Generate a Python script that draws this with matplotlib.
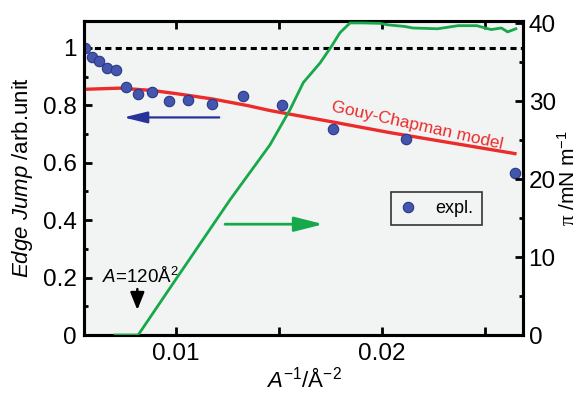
import matplotlib
matplotlib.use('Agg')
import matplotlib.pyplot as plt
from matplotlib.lines import Line2D

plt.rcParams['font.family'] = ['Liberation Sans', 'DejaVu Sans']
plt.rcParams['mathtext.fontset'] = 'custom'
plt.rcParams['mathtext.rm'] = 'Liberation Sans'
plt.rcParams['mathtext.it'] = 'Liberation Sans:italic'
plt.rcParams['mathtext.cal'] = 'Liberation Serif'

RED = '#ec2b2b'
GREEN = '#16a84a'
BLUE = '#4356ad'
BG = '#f2f4f3'

# experimental edge jump (left axis)
expl_x = [0.00558, 0.00591, 0.00625, 0.00664, 0.00707, 0.00757, 0.00814, 0.00883,
          0.00965, 0.0106, 0.01176, 0.01324, 0.01513, 0.01764, 0.02117, 0.02647]
expl_y = [0.999, 0.967, 0.955, 0.931, 0.922, 0.863, 0.839, 0.847,
          0.816, 0.818, 0.804, 0.834, 0.801, 0.717, 0.682, 0.563]

# Gouy-Chapman model (left axis)
gc_x = [0.005534, 0.007282, 0.008835, 0.0100, 0.011796, 0.013495, 0.014563,
        0.017621, 0.020388, 0.02330, 0.026456]
gc_y = [0.856, 0.860, 0.852, 0.841, 0.822, 0.799, 0.782, 0.742, 0.705, 0.670, 0.632]

# surface pressure isotherm (right axis)
pi_x = [0.00704, 0.00816, 0.00985, 0.01262, 0.01456, 0.01553, 0.01618,
        0.01699, 0.01756, 0.01796, 0.01845, 0.01908, 0.01990, 0.0203, 0.0211,
        0.0215, 0.0227, 0.0237, 0.0246, 0.0253, 0.0258, 0.0261, 0.0265]
pi_y = [0, 0, 6.6, 17.35, 24.4, 28.9, 32.4, 34.9, 37.1, 38.8, 40.05,
        40.05, 40.0, 39.8, 39.6, 39.4, 39.3, 39.7, 39.7, 39.2, 39.4, 38.9, 39.3]

fig = plt.figure(figsize=(5.85, 3.99), dpi=100)
ax = fig.add_axes([0.1436, 0.1604, 0.7505, 0.787])
ax.set_facecolor(BG)
ax2 = ax.twinx()

ax.axhline(1.0, color='black', lw=2.2, dashes=(2.0, 1.4), zorder=2)
ax.plot(gc_x, gc_y, color=RED, lw=2.4, zorder=3)
ax.plot(expl_x, expl_y, 'o', ms=7.5, mfc=BLUE, mec='#2a3787', mew=0.8, zorder=4)
ax2.plot(pi_x, pi_y, color=GREEN, lw=2.0, zorder=3)

ax.set_xlim(0.00553, 0.02685)
ax.set_ylim(0, 1.094)
ax2.set_ylim(0, 40.3)

ax.set_xticks([0.01, 0.02])
ax.set_xticklabels(['0.01', '0.02'])
ax.set_xticks([0.015, 0.025], minor=True)
ax.set_yticks([0, 0.2, 0.4, 0.6, 0.8, 1.0])
ax.set_yticklabels(['0', '0.2', '0.4', '0.6', '0.8', '1'])
ax.set_yticks([0.1, 0.3, 0.5, 0.7, 0.9], minor=True)
ax2.set_yticks([0, 10, 20, 30, 40])
ax2.set_yticks([5, 15, 25, 35], minor=True)

for a in (ax, ax2):
    for s in a.spines.values():
        s.set_linewidth(2.2)
ax.tick_params(axis='both', which='both', direction='in', width=2, labelsize=17.5, pad=5)
ax.tick_params(axis='x', which='both', top=True, length=6, pad=6)
ax.tick_params(axis='y', which='major', length=6)
ax.tick_params(axis='y', which='minor', length=3)
ax2.tick_params(axis='y', which='both', direction='in', width=2, labelsize=17.5, pad=4)
ax2.tick_params(axis='y', which='major', length=6)
ax2.tick_params(axis='y', which='minor', length=3)

ax.set_ylabel(r'$\mathit{Edge\ Jump}$ /arb.unit', fontsize=16, labelpad=6)
ax.set_xlabel(r'$\mathit{A}^{-1}$/Å$^{-2}$', fontsize=16, labelpad=2)
ax2.set_ylabel(r'$\mathcal{\pi}$ /mN m$^{-1}$', fontsize=15, labelpad=1)

ax.text(0.0217, 0.728, 'Gouy-Chapman model', color=RED, fontsize=12.5,
        rotation=-12.5, ha='center', va='center', rotation_mode='anchor')

ax.annotate('', xy=(0.00745, 0.758), xytext=(0.0121, 0.758),
            arrowprops=dict(arrowstyle='-|>,head_length=0.9,head_width=0.22',
                            color='#27339a', lw=1.6, mutation_scale=16,
                            shrinkA=0, shrinkB=0))
ax.annotate('', xy=(0.01715, 0.386), xytext=(0.01238, 0.386),
            arrowprops=dict(arrowstyle='-|>,head_length=1.1,head_width=0.28',
                            color=GREEN, lw=2.0, mutation_scale=16,
                            shrinkA=0, shrinkB=0))
ax.annotate('', xy=(0.00812, 0.087), xytext=(0.00812, 0.16),
            arrowprops=dict(arrowstyle='-|>,head_length=0.75,head_width=0.3',
                            color='black', lw=1.8, mutation_scale=14,
                            shrinkA=0, shrinkB=0))
ax.text(0.00639, 0.181, r'$\mathit{A}$=120Å$^2$', fontsize=13.5, ha='left',
        va='baseline')

handle = Line2D([], [], ls='none', marker='o', ms=7.5, mfc=BLUE, mec='#2a3787', mew=0.8)
leg = ax2.legend([handle], ['expl.'], loc='lower left', bbox_to_anchor=(0.70, 0.35),
                 fontsize=13, fancybox=False, framealpha=1, facecolor=BG,
                 edgecolor='#333333', handlelength=1.0, handletextpad=1.0,
                 borderpad=0.45, borderaxespad=0)
leg.get_frame().set_linewidth(1.2)

fig.savefig('out.png', dpi=100)
